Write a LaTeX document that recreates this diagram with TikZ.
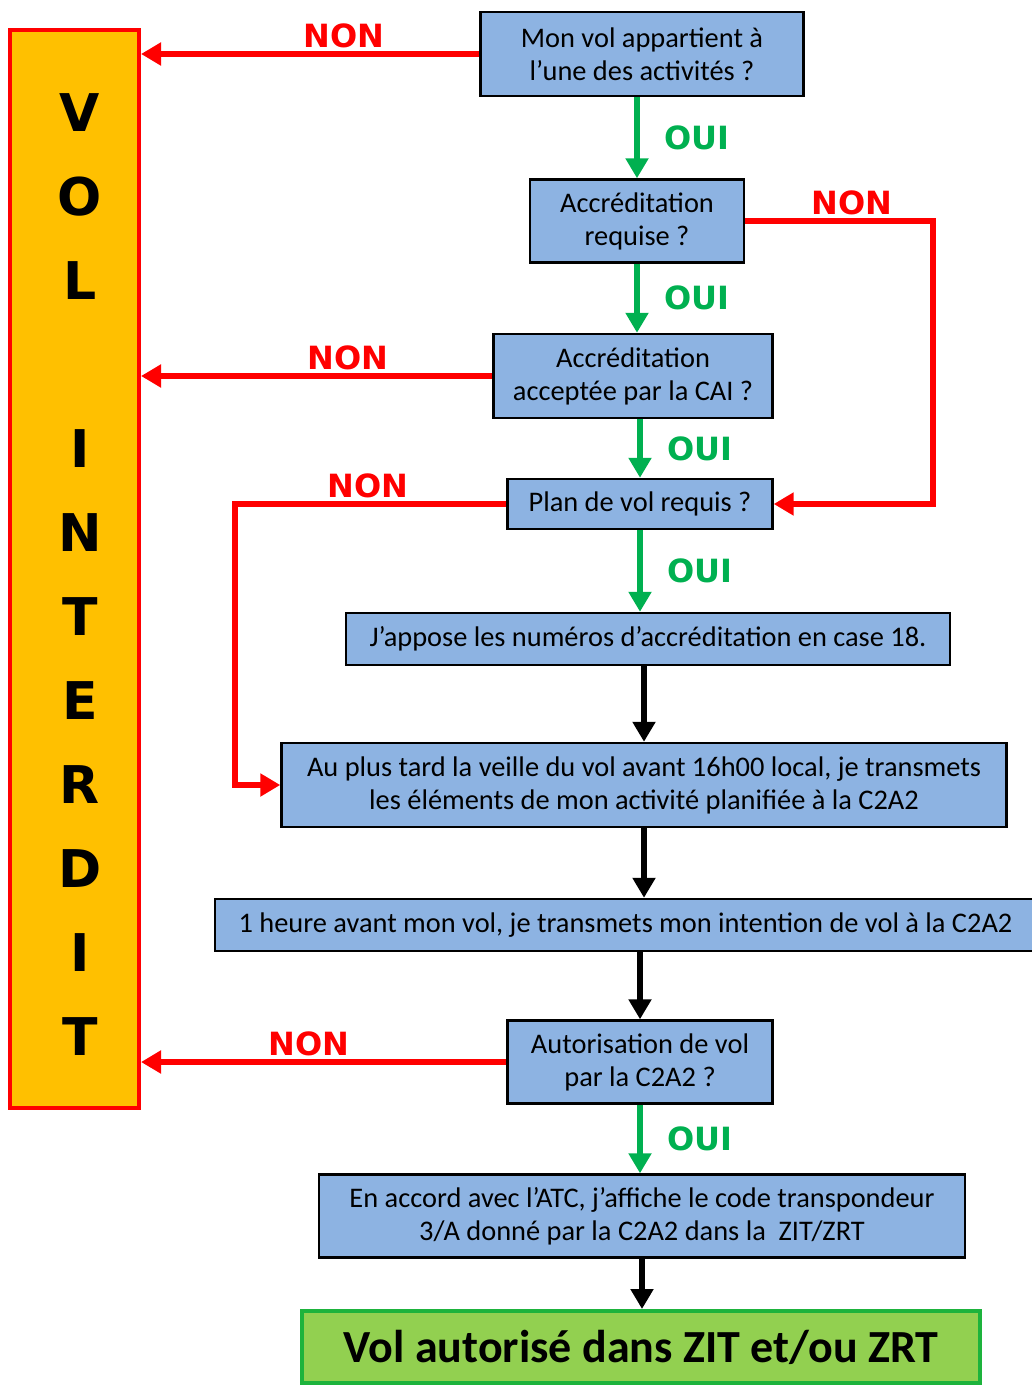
\documentclass[tikz,border=0pt]{standalone}
\usepackage{fontspec}
\setmainfont{Carlito}
\newfontfamily\labelfont{DejaVu Sans}
\usetikzlibrary{arrows.meta}

\definecolor{boxblue}{HTML}{8DB3E2}
\definecolor{nonred}{HTML}{FF0000}
\definecolor{ouigreen}{HTML}{00B050}
\definecolor{volorange}{HTML}{FFC000}
\definecolor{okgreen}{HTML}{92D050}
\definecolor{okborder}{HTML}{1DB33C}

\begin{document}
\begin{tikzpicture}[x=0.5pt,y=-0.5pt]

\tikzset{>={Triangle[length=10pt,width=11pt]}}
\tikzset{etape/.style={draw=black,line width=1.2pt,fill=boxblue,align=center,
    inner sep=0pt,font=\fontsize{14.2}{16.5}\selectfont}}
\tikzset{non/.style={->,draw=nonred,line width=3pt}}
\tikzset{oui/.style={->,draw=ouigreen,line width=3pt}}
\tikzset{suite/.style={->,draw=black,line width=3pt}}
\tikzset{nonlabel/.style={text=nonred,inner sep=1.5pt,font=\labelfont\bfseries\fontsize{16}{16}\selectfont}}
\tikzset{ouilabel/.style={text=ouigreen,inner sep=0pt,font=\labelfont\bfseries\fontsize{16}{16}\selectfont}}
\def\rightX{933}
\def\leftX{235}

\useasboundingbox (0,0) rectangle (1032,1385);

% bande verticale
\draw (74.5,569) node[draw=nonred,line width=2pt,fill=volorange,minimum width=64.5pt,minimum height=539pt](vol) {};
\draw (80,575) node[align=center,font=\labelfont\bfseries\fontsize{26}{42}\selectfont](lettres)
    {V\\O\\L\\~\\I\\N\\T\\E\\R\\D\\I\\T};

% questions et etapes
\draw (642,54) node[etape,minimum width=161.5pt,minimum height=42pt](q1) {Mon vol appartient à\\l’une des activités ?};
\draw (637,221) node[etape,minimum width=107pt,minimum height=41.5pt](q2) {Accréditation\\requise ?};
\draw (633,376) node[etape,minimum width=139.5pt,minimum height=42pt](q3) {Accréditation\\acceptée par la CAI ?};
\draw (640,504) node[etape,minimum width=132.5pt,minimum height=25pt](q4) {Plan de vol requis ?};
\draw (648,639) node[etape,minimum width=302pt,minimum height=26pt](e1) {J’appose les numéros d’accréditation en case 18.};
\draw (644,785) node[etape,minimum width=362.5pt,minimum height=42pt](e2)
    {Au plus tard la veille du vol avant 16h00 local, je transmets\\les éléments de mon activité planifiée à la C2A2};
\draw (625.5,925) node[etape,minimum width=410.5pt,minimum height=26pt](e3)
    {1 heure avant mon vol, je transmets mon intention de vol à la C2A2};
\draw (640,1062) node[etape,minimum width=132.5pt,minimum height=41.5pt](q5) {Autorisation de vol\\par la C2A2 ?};
\draw (642,1216) node[etape,minimum width=323pt,minimum height=41.5pt](e4)
    {En accord avec l’ATC, j’affiche le code transpondeur\\3/A donné par la C2A2 dans la~~ZIT/ZRT};
\draw (641,1347) node[draw=okborder,line width=2pt,fill=okgreen,minimum width=339pt,minimum height=36pt,
    font=\bfseries\fontsize{23}{23}\selectfont](fin) {Vol autorisé dans ZIT et/ou ZRT};

% reponses OUI
\draw[oui] (q1.south -| q2.north) -- (q2.north) node[midway,right=12pt,ouilabel] {OUI};
\draw[oui] (q2.south) -- (q2.south |- q3.north) node[midway,right=12pt,ouilabel] {OUI};
\draw[oui] (q3.south -| q4.north) -- (q4.north) node[midway,right=12pt,ouilabel] {OUI};
\draw[oui] (q4.south) -- (q4.south |- e1.north) node[midway,right=12pt,ouilabel] {OUI};
\draw[oui] (q5.south) -- (q5.south |- e4.north) node[midway,right=12pt,ouilabel] {OUI};

% reponses NON
\draw[non] (q1.west) -- (q1.west -| vol.east) node[pos=.4,above,nonlabel] {NON};
\draw[non] (q3.west) -- (q3.west -| vol.east) node[pos=.41,above,nonlabel] {NON};
\draw[non] (q5.west) -- (q5.west -| vol.east) node[pos=.54,above,nonlabel] {NON};
\draw[non] (q2.east) -- (\rightX,221) node[pos=.57,above,nonlabel] {NON} |- (q4.east);
\draw[non] (q4.west) -- (\leftX,504) node[pos=.51,above,nonlabel] {NON} |- (e2.west);

% suite
\draw[suite] (e1.south -| e2.north) -- (e2.north);
\draw[suite] (e2.south) -- (e2.south |- e3.north);
\draw[suite] (e3.south -| q5.north) -- (q5.north);
\draw[suite] (e4.south) -- (e4.south |- fin.north);

\end{tikzpicture}
\end{document}
